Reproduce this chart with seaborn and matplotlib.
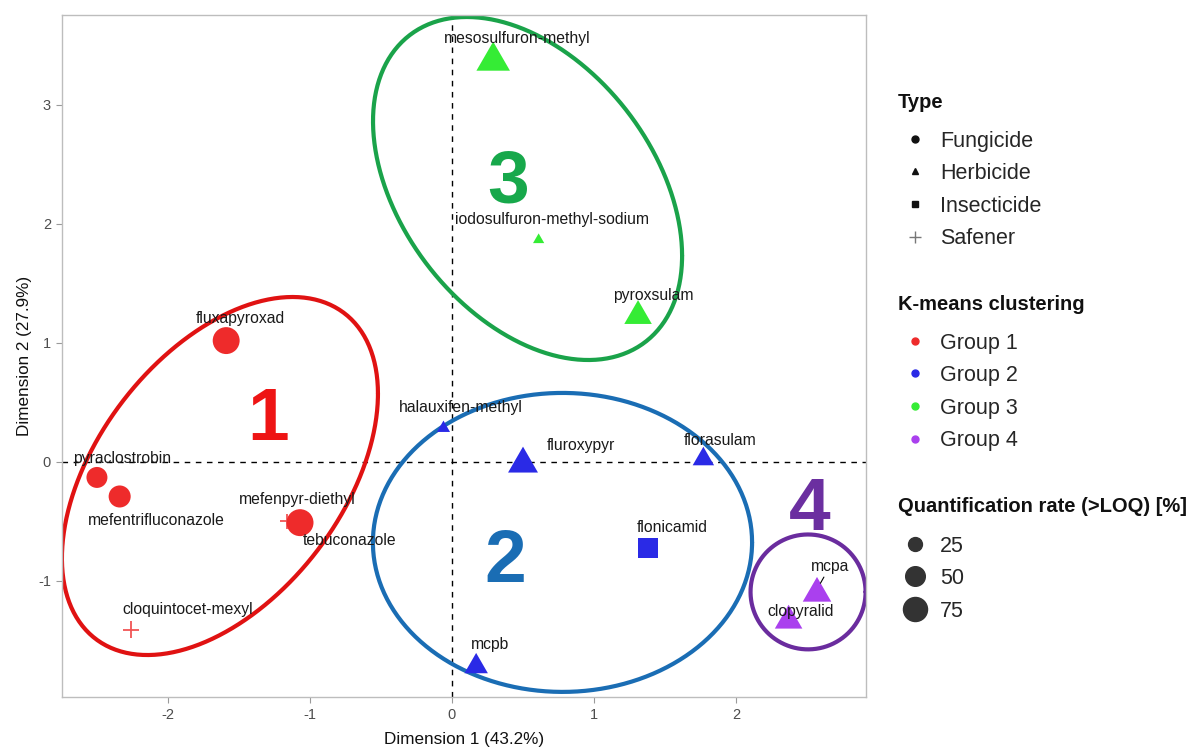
import numpy as np
import pandas as pd
import matplotlib
matplotlib.use("Agg")
import matplotlib.pyplot as plt
from matplotlib.lines import Line2D
import seaborn as sns

# ---- data -------------------------------------------------------------
compounds = ["fluxapyroxad", "pyraclostrobin", "mefentrifluconazole", "tebuconazole",
             "mefenpyr-diethyl", "cloquintocet-mexyl", "halauxifen-methyl", "fluroxypyr",
             "florasulam", "flonicamid", "mcpb", "mesosulfuron-methyl",
             "iodosulfuron-methyl-sodium", "pyroxsulam", "mcpa", "clopyralid"]
dim1 = [-1.59, -2.50, -2.34, -1.07, -1.16, -2.26, -0.06, 0.50,
        1.77, 1.38, 0.17, 0.29, 0.61, 1.31, 2.57, 2.37]
dim2 = [1.02, -0.13, -0.29, -0.51, -0.50, -1.41, 0.30, 0.02,
        0.05, -0.72, -1.69, 3.41, 1.88, 1.26, -1.07, -1.30]
pest_type = ["Fungicide", "Fungicide", "Fungicide", "Fungicide",
             "Safener", "Safener", "Herbicide", "Herbicide",
             "Herbicide", "Insecticide", "Herbicide", "Herbicide",
             "Herbicide", "Herbicide", "Herbicide", "Herbicide"]
cluster = ["Group 1"] * 6 + ["Group 2"] * 5 + ["Group 3"] * 3 + ["Group 4"] * 2
quant_rate = [94, 57, 63, 94, 29, 37, 15, 78, 40, 65, 48, 98, 11, 66, 71, 66]

type_levels = ["Fungicide", "Herbicide", "Insecticide", "Safener"]
group_levels = ["Group 1", "Group 2", "Group 3", "Group 4"]
size_breaks = [25, 50, 75]

# cluster hulls drawn by hand: centre and shape matrix (data units)
hull_centers = [(-1.634, -0.118), (0.778, -0.676), (0.532, 2.298), (2.507, -1.092)]
hull_shapes = [[[1.238, 0.769], [0.769, 2.263]],
               [[1.782, 0.0], [0.0, 1.578]],
               [[1.184, -0.6155], [-0.6155, 2.077]],
               [[0.164, 0.0], [0.0, 0.233]]]

df = pd.DataFrame({"compound": compounds, "dim1": dim1, "dim2": dim2,
                   "type": pest_type, "cluster": cluster, "rate": quant_rate})

# ---- styling ----------------------------------------------------------
sns.set_style("white")
plt.rcParams["font.family"] = ["Liberation Sans", "DejaVu Sans"]
plt.rcParams["axes.unicode_minus"] = False

point_pal = dict(zip(group_levels, ["#EE2B2B", "#2A2AE6", "#35EC35", "#AA40EE"]))
hull_cols = ["#E01212", "#1A6DB4", "#1AA34A", "#6A2C9E"]
num_cols = ["#EE1414", "#1A6DB4", "#17A84B", "#6B2FA0"]

# equilateral triangle, as ggplot draws it
tri = [(0.0, 0.866), (-1.0, -0.866), (1.0, -0.866), (0.0, 0.866)]
type_marker = {"Fungicide": "o", "Herbicide": tri, "Insecticide": "s", "Safener": "+"}
type_scale = {"Fungicide": 1.0, "Herbicide": 1.22, "Insecticide": 0.85, "Safener": 1.0}

fig = plt.figure(figsize=(11.96, 7.49), dpi=100)
W, H = 1196, 749
ax = fig.add_axes([62 / W, 52 / H, 804 / W, 682 / H])

ax.axhline(0, color="black", lw=1, ls=(0, (4, 4)), zorder=1)
ax.axvline(0, color="black", lw=1, ls=(0, (4, 4)), zorder=1)

for t in type_levels:
    sub = df[df["type"] == t]
    f = type_scale[t] ** 2
    sns.scatterplot(data=sub, x="dim1", y="dim2", hue="cluster", palette=point_pal,
                    hue_order=group_levels, size="rate", size_norm=(0, 100),
                    sizes=(0, 400 * f), marker=type_marker[t],
                    linewidth=1.3 if t == "Safener" else 0,
                    alpha=0.8 if t == "Safener" else 1.0,
                    legend=False, ax=ax, zorder=3)

# point labels (offsets in pixels from each point)
label_offset = {
    "fluxapyroxad": (14, 22), "pyraclostrobin": (25, 19),
    "mefentrifluconazole": (37, -24), "tebuconazole": (50, -18),
    "mefenpyr-diethyl": (10, 22), "cloquintocet-mexyl": (57, 20),
    "halauxifen-methyl": (17, 19), "fluroxypyr": (58, 14),
    "florasulam": (17, 16), "flonicamid": (24, 20), "mcpb": (14, 19),
    "mesosulfuron-methyl": (24, 18), "iodosulfuron-methyl-sodium": (13, 19),
    "pyroxsulam": (15, 17), "mcpa": (13, 23), "clopyralid": (12, 5),
}
for name, x, y in zip(compounds, dim1, dim2):
    dx, dy = label_offset[name]
    kw = {}
    if name == "mcpa":
        kw["arrowprops"] = dict(arrowstyle="-", color="black", lw=0.8,
                                shrinkA=0, shrinkB=5)
    ax.annotate(name, (x, y), xytext=(dx, dy), textcoords="offset pixels",
                ha="center", va="center", fontsize=11.3, color="#1a1a1a",
                zorder=4, **kw)

# cluster outlines
tt = np.linspace(0, 2 * np.pi, 300)
for c, S, col in zip(hull_centers, hull_shapes, hull_cols):
    L = np.linalg.cholesky(np.array(S))
    pts = L @ np.vstack([np.cos(tt), np.sin(tt)])
    ax.plot(c[0] + pts[0], c[1] + pts[1], color=col, lw=3, zorder=2,
            solid_capstyle="round")

# cluster numbers
for lab, (x, y), col in zip(["1", "2", "3", "4"],
                            [(-1.296, 0.352), (0.373, -0.842), (0.394, 2.343), (2.521, -0.405)],
                            num_cols):
    ax.text(x, y, lab, fontsize=54, fontweight="bold", color=col,
            ha="center", va="center", zorder=2)

ax.set_xlim(-2.746, 2.915)
ax.set_ylim(-1.975, 3.756)
ax.set_xticks([-2, -1, 0, 1, 2])
ax.set_yticks([-1, 0, 1, 2, 3])
ax.set_xlabel("Dimension 1 (43.2%)", fontsize=12.3, color="#111111", labelpad=7)
ax.set_ylabel("Dimension 2 (27.9%)", fontsize=12.3, color="#111111", labelpad=4)
ax.tick_params(axis="both", direction="out", length=4, width=0.8, color="#9a9a9a",
               labelsize=10.5, labelcolor="#4d4d4d", bottom=True, left=True, pad=4)
for sp in ax.spines.values():
    sp.set_color("#bdbdbd")
    sp.set_linewidth(1.0)

# ---- legends ----------------------------------------------------------
leg_kw = dict(loc="upper left", frameon=False, borderpad=0, handlelength=1.58,
              handletextpad=0.37, labelspacing=0.535, fontsize=15.5,
              borderaxespad=0)
title_kw = dict(fontsize=14.5, fontweight="bold", color="#111111",
                ha="left", va="center")

fig.text(898 / W, 1 - 102 / H, "Type", **title_kw)
type_handles = [
    Line2D([], [], ls="", marker="o", color="#111111", markersize=5),
    Line2D([], [], ls="", marker="^", color="#111111", markersize=5),
    Line2D([], [], ls="", marker="s", color="#111111", markersize=5),
    Line2D([], [], ls="", marker="+", color="#777777", markersize=8, markeredgewidth=1),
]
fig.legend(type_handles, type_levels, bbox_to_anchor=(898 / W, 1 - 130.5 / H), **leg_kw)

fig.text(898 / W, 1 - 304 / H, "K-means clustering", **title_kw)
group_handles = [Line2D([], [], ls="", marker="o", color=point_pal[g], markersize=5)
                 for g in group_levels]
fig.legend(group_handles, group_levels, bbox_to_anchor=(898 / W, 1 - 332.5 / H), **leg_kw)

fig.text(898 / W, 1 - 507 / H, "Quantification rate (>LOQ) [%]", **title_kw)
size_handles = [Line2D([], [], ls="", marker="o", color="#333333",
                       markersize=np.sqrt(4 * r)) for r in size_breaks]
fig.legend(size_handles, [str(r) for r in size_breaks],
           bbox_to_anchor=(898 / W, 1 - 535.5 / H), **leg_kw)

fig.savefig("out.png", dpi=100, facecolor="white")
